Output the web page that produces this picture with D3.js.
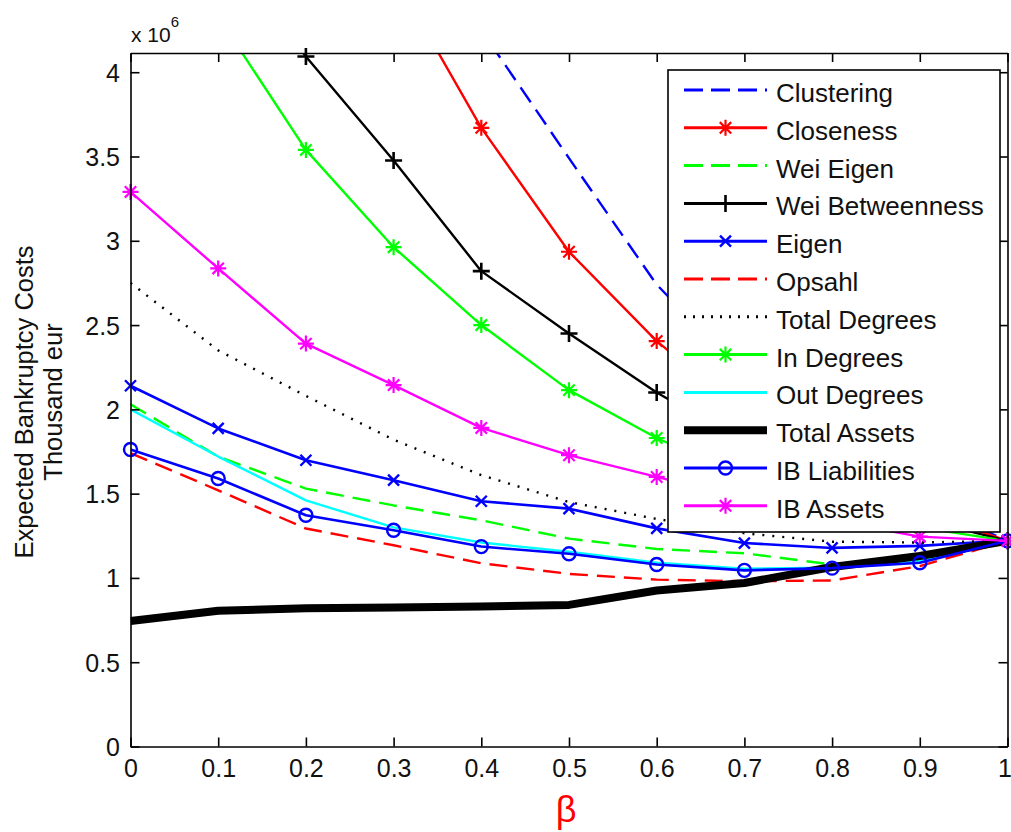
<!DOCTYPE html>
<html>
<head>
<meta charset="utf-8">
<script src="https://cdn.jsdelivr.net/npm/d3@7"></script>
<style>
  html, body { margin: 0; padding: 0; background: #fff; }
  svg { display: block; font-family: "Liberation Sans", Arial, sans-serif; }
</style>
</head>
<body>
<svg id="chart" width="1011" height="832"></svg>
<script>
// β values on the x axis
const beta = [0, 0.1, 0.2, 0.3, 0.4, 0.5, 0.6, 0.7, 0.8, 0.9, 1];

// Expected bankruptcy costs (x 10^6 thousand eur) per ranking strategy
const clustering      = [9.0, 7.6, 6.3, 5.2, 4.25, 3.49, 2.74, 2.2, 1.8, 1.45, 1.22];
const closeness       = [8.0, 6.7, 5.6, 4.58, 3.67, 2.935, 2.405, 1.98, 1.65, 1.4, 1.22];
const weiEigen        = [2.03, 1.72, 1.53, 1.43, 1.342, 1.233, 1.172, 1.146, 1.08, 1.11, 1.22];
const weiBetweenness  = [5.6, 4.8, 4.093, 3.476, 2.82, 2.45, 2.10, 1.8, 1.55, 1.35, 1.22];
const eigen           = [2.14, 1.887, 1.698, 1.58, 1.455, 1.411, 1.294, 1.207, 1.178, 1.19, 1.222];
const opsahl          = [1.74, 1.52, 1.293, 1.194, 1.087, 1.024, 0.99, 0.98, 0.985, 1.07, 1.22];
const totalDegrees    = [2.75, 2.35, 2.08, 1.82, 1.61, 1.45, 1.35, 1.265, 1.215, 1.21, 1.22];
const inDegrees       = [5.3, 4.33, 3.539, 2.962, 2.50, 2.114, 1.83, 1.6, 1.43, 1.3, 1.22];
const outDegrees      = [2.0, 1.72, 1.46, 1.30, 1.21, 1.155, 1.09, 1.055, 1.06, 1.10, 1.22];
const totalAssets     = [0.745, 0.805, 0.82, 0.825, 0.83, 0.84, 0.925, 0.97, 1.065, 1.13, 1.22];
const ibLiabilities   = [1.762, 1.59, 1.372, 1.283, 1.186, 1.143, 1.08, 1.045, 1.058, 1.09, 1.22];
const ibAssets        = [3.29, 2.836, 2.39, 2.144, 1.89, 1.728, 1.599, 1.47, 1.34, 1.245, 1.22];

const seriesNames = ["Clustering", "Closeness", "Wei Eigen", "Wei Betweenness", "Eigen", "Opsahl",
  "Total Degrees", "In Degrees", "Out Degrees", "Total Assets", "IB Liabilities", "IB Assets"];

// tick labels
const xTicks = [0, 0.1, 0.2, 0.3, 0.4, 0.5, 0.6, 0.7, 0.8, 0.9, 1];
const xTickLabels = ["0", "0.1", "0.2", "0.3", "0.4", "0.5", "0.6", "0.7", "0.8", "0.9", "1"];
const yTicks = [0, 0.5, 1, 1.5, 2, 2.5, 3, 3.5, 4];
const yTickLabels = ["0", "0.5", "1", "1.5", "2", "2.5", "3", "3.5", "4"];

// line styles: colour, dash pattern, width, marker
const styles = [
  { color: "#0000ff", dash: "18,9", width: 2.4, marker: null },
  { color: "#ff0000", dash: null, width: 2.4, marker: "star" },
  { color: "#00ff00", dash: "18,9", width: 2.4, marker: null },
  { color: "#000000", dash: null, width: 2.4, marker: "plus" },
  { color: "#0000ff", dash: null, width: 2.6, marker: "x" },
  { color: "#ff0000", dash: "18,9", width: 2.4, marker: null },
  { color: "#000000", dash: "2,8", width: 2.4, marker: null },
  { color: "#00ff00", dash: null, width: 2.4, marker: "star" },
  { color: "#00ffff", dash: null, width: 2.4, marker: null },
  { color: "#000000", dash: null, width: 8, marker: null },
  { color: "#0000ff", dash: null, width: 2.6, marker: "circle" },
  { color: "#ff00ff", dash: null, width: 2.4, marker: "star" }
];
const values = [clustering, closeness, weiEigen, weiBetweenness, eigen, opsahl,
  totalDegrees, inDegrees, outDegrees, totalAssets, ibLiabilities, ibAssets];

const svg = d3.select("#chart");
const plotLeft = 130.5, plotRight = 1007.5, plotTop = 53, plotBottom = 746.5;
const yMax = 4.114;

const x = d3.scaleLinear().domain([0, 1]).range([plotLeft, plotRight]);
const y = d3.scaleLinear().domain([0, yMax]).range([plotBottom, plotTop]);

svg.append("defs").append("clipPath").attr("id", "plotClip")
  .append("rect").attr("x", plotLeft).attr("y", plotTop)
  .attr("width", plotRight - plotLeft).attr("height", plotBottom - plotTop);

// series lines
const line = d3.line().x((d, i) => x(beta[i])).y(d => y(d));
const plot = svg.append("g");

function drawMarker(g, type, cx, cy, color) {
  const s = g.append("g").attr("transform", `translate(${cx},${cy})`)
    .attr("stroke", color).attr("stroke-width", 2.2).attr("fill", "none");
  if (type === "star") {
    const r = 8, d = 5.7;
    s.append("path").attr("d", `M${-r},0H${r}M0,${-r}V${r}M${-d},${-d}L${d},${d}M${-d},${d}L${d},${-d}`);
  } else if (type === "plus") {
    const r = 8.5;
    s.append("path").attr("d", `M${-r},0H${r}M0,${-r}V${r}`).attr("stroke-width", 2.6);
  } else if (type === "x") {
    const r = 5.5;
    s.append("path").attr("d", `M${-r},${-r}L${r},${r}M${-r},${r}L${r},${-r}`).attr("stroke-width", 2.4);
  } else if (type === "circle") {
    s.append("circle").attr("r", 6.5).attr("stroke-width", 2.4);
  }
}

values.forEach((vals, k) => {
  const st = styles[k];
  const g = plot.append("g");
  g.append("path")
    .attr("clip-path", "url(#plotClip)")
    .attr("d", line(vals))
    .attr("fill", "none")
    .attr("stroke", st.color)
    .attr("stroke-width", st.width)
    .attr("stroke-dasharray", st.dash)
    .attr("stroke-linejoin", "round");
  if (st.marker) {
    vals.forEach((v, i) => {
      if (v <= yMax) drawMarker(g, st.marker, x(beta[i]), y(v), st.color);
    });
  }
});

// axes box with inward ticks on all four sides
const axisColor = "#000";
const fmtX = (d) => xTickLabels[xTicks.indexOf(d)];
const fmtY = (d) => yTickLabels[yTicks.indexOf(d)];

const gx = svg.append("g").attr("transform", `translate(0,${plotBottom})`)
  .call(d3.axisBottom(x).tickValues(xTicks).tickFormat(fmtX).tickSizeInner(-9).tickSizeOuter(0));
gx.selectAll("text").attr("y", 30.5).attr("dy", 0).attr("font-size", 25).attr("fill", "#111")
  .attr("font-family", "'Liberation Sans', Arial, sans-serif")
  .attr("dx", d => d === 1 ? -3 : 0);

const gxTop = svg.append("g").attr("transform", `translate(0,${plotTop})`)
  .call(d3.axisTop(x).tickValues(xTicks).tickFormat("").tickSizeInner(-9).tickSizeOuter(0));

const gy = svg.append("g").attr("transform", `translate(${plotLeft},0)`)
  .call(d3.axisLeft(y).tickValues(yTicks).tickFormat(fmtY).tickSizeInner(-9).tickSizeOuter(0));
gy.selectAll("text").attr("x", -10.5).attr("dy", "0.36em").attr("font-size", 25).attr("fill", "#111")
  .attr("font-family", "'Liberation Sans', Arial, sans-serif");

const gyRight = svg.append("g").attr("transform", `translate(${plotRight},0)`)
  .call(d3.axisRight(y).tickValues(yTicks).tickFormat("").tickSizeInner(-9).tickSizeOuter(0));

[gx, gxTop, gy, gyRight].forEach(g => {
  g.select(".domain").attr("stroke", axisColor).attr("stroke-width", 1.6);
  g.selectAll(".tick line").attr("stroke", axisColor).attr("stroke-width", 1.6);
});

// exponent label
const expo = svg.append("text").attr("x", 131).attr("y", 42).attr("font-size", 21).attr("fill", "#111");
expo.append("tspan").text("x 10");
expo.append("tspan").attr("font-size", 15).attr("dy", -15).text("6");

// axis titles
svg.append("text").attr("transform", "translate(33,402) rotate(-90)")
  .attr("text-anchor", "middle").attr("font-size", 25.5).attr("fill", "#111")
  .text("Expected Bankruptcy Costs");
svg.append("text").attr("transform", "translate(62,402) rotate(-90)")
  .attr("text-anchor", "middle").attr("font-size", 25.5).attr("fill", "#111")
  .text("Thousand eur");
svg.append("text").attr("x", (plotLeft + plotRight) / 2 - 3).attr("y", 822)
  .attr("text-anchor", "middle").attr("font-size", 36).attr("fill", "#ff0000")
  .text("β");

// legend
const lg = svg.append("g");
lg.append("rect").attr("x", 668).attr("y", 70).attr("width", 332).attr("height", 462)
  .attr("fill", "#fff").attr("stroke", "#000").attr("stroke-width", 1.6);
seriesNames.forEach((name, k) => {
  const st = styles[k];
  const cy = 90 + 37.8 * k;
  lg.append("line").attr("x1", 684).attr("x2", 767).attr("y1", cy).attr("y2", cy)
    .attr("stroke", st.color).attr("stroke-width", st.width === 8 ? 8 : 3)
    .attr("stroke-dasharray", st.dash === "18,9" ? "19,8" : st.dash === "2,8" ? "2,7" : null);
  if (st.marker) drawMarker(lg, st.marker, 725.5, cy, st.color);
  lg.append("text").attr("x", 776).attr("y", cy + 12).attr("font-size", 26).attr("fill", "#111")
    .text(name);
});
</script>
</body>
</html>
